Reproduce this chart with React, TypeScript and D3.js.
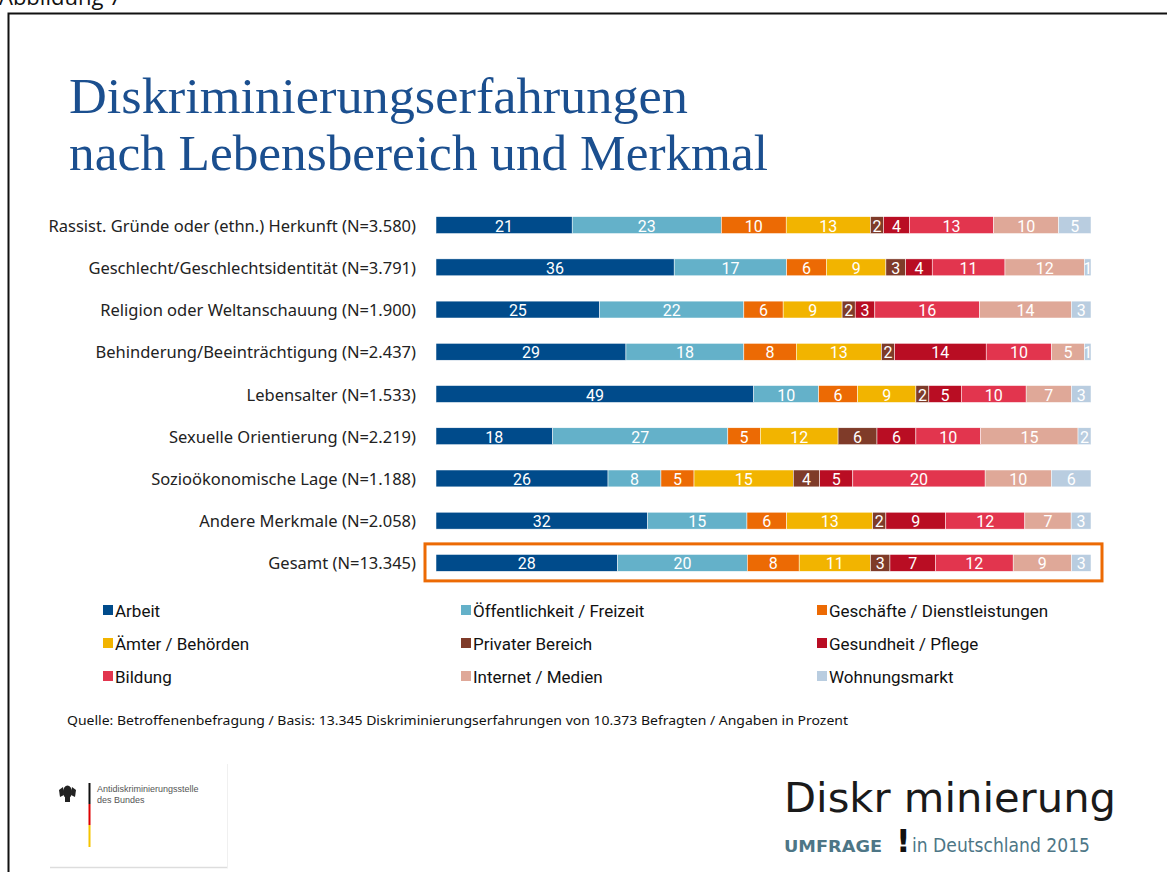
import React from "react";
import * as d3 from "d3";

const categories = [
  "Rassist. Gründe oder (ethn.) Herkunft (N=3.580)",
  "Geschlecht/Geschlechtsidentität (N=3.791)",
  "Religion oder Weltanschauung (N=1.900)",
  "Behinderung/Beeinträchtigung (N=2.437)",
  "Lebensalter (N=1.533)",
  "Sexuelle Orientierung (N=2.219)",
  "Sozioökonomische Lage (N=1.188)",
  "Andere Merkmale (N=2.058)",
  "Gesamt (N=13.345)",
];

const seriesNames = [
  "Arbeit",
  "Öffentlichkeit / Freizeit",
  "Geschäfte / Dienstleistungen",
  "Ämter / Behörden",
  "Privater Bereich",
  "Gesundheit / Pflege",
  "Bildung",
  "Internet / Medien",
  "Wohnungsmarkt",
];

const arbeit = [21, 36, 25, 29, 49, 18, 26, 32, 28];
const oeffentlichkeit = [23, 17, 22, 18, 10, 27, 8, 15, 20];
const geschaefte = [10, 6, 6, 8, 6, 5, 5, 6, 8];
const aemter = [13, 9, 9, 13, 9, 12, 15, 13, 11];
const privat = [2, 3, 2, 2, 2, 6, 4, 2, 3];
const gesundheit = [4, 4, 3, 14, 5, 6, 5, 9, 7];
const bildung = [13, 11, 16, 10, 10, 10, 20, 12, 12];
const internet = [10, 12, 14, 5, 7, 15, 10, 7, 9];
const wohnung = [5, 1, 3, 1, 3, 2, 6, 3, 3];

const seriesValues = [arbeit, oeffentlichkeit, geschaefte, aemter, privat, gesundheit, bildung, internet, wohnung];

const colors = [
  "#004b8b",
  "#64b1c9",
  "#ec6a04",
  "#f2b400",
  "#7f3b29",
  "#b90d23",
  "#e2354e",
  "#dfa898",
  "#b9cde0",
];

const rows = categories.map((c, i) => {
  const o: any = { cat: c };
  seriesNames.forEach((s, j) => (o[s] = seriesValues[j][i]));
  return o;
});

const W = 1167;
const H = 872;

export default function App() {
  const stack = d3.stack<any>().keys(seriesNames).offset(d3.stackOffsetExpand);
  const layers = stack(rows);
  const x = d3.scaleLinear().domain([0, 1]).range([436, 1091]);
  const y = d3
    .scaleBand<string>()
    .domain(categories)
    .range([204, 584])
    .paddingInner(0.6)
    .paddingOuter(0.3);
  const bw = y.bandwidth();
  const legendCols = [103, 461, 817];
  const legendRows = [610, 643, 676];
  const gesamt = categories[categories.length - 1];
  const gy = (y(gesamt) as number) + bw / 2;

  const labelFont = "'Liberation Sans Narrow', 'Arial Narrow', 'Roboto', sans-serif";

  return (
    <svg
      width={W}
      height={H}
      viewBox={`0 0 ${W} ${H}`}
      style={{ position: "absolute", left: 0, top: 0, background: "#fff" }}
    >
      <rect x={0} y={0} width={W} height={H} fill="#fff" />
      <text x={-1} y={5} fontFamily="'Open Sans', sans-serif" fontSize={22} fill="#111">
        Abbildung 7
      </text>
      <rect x={8.5} y={13.5} width={W + 20} height={H + 20} fill="none" stroke="#111" strokeWidth={2} />

      <g fontFamily="'Liberation Serif', serif" fill="#1b4f8f" fontSize={50}>
        <text x={69} y={113} textLength={619} lengthAdjust="spacingAndGlyphs">
          Diskriminierungserfahrungen
        </text>
        <text x={69} y={170} textLength={699} lengthAdjust="spacingAndGlyphs">
          nach Lebensbereich und Merkmal
        </text>
      </g>

      <g fontFamily="'Noto Sans', sans-serif" fontSize={16.5} fill="#222">
        {categories.map((c) => (
          <text key={c} x={416} y={(y(c) as number) + bw / 2} textAnchor="end" dominantBaseline="central">
            {c}
          </text>
        ))}
      </g>

      {layers.map((layer, li) => (
        <g key={layer.key}>
          {layer.map((d, i) => {
            const x0 = x(d[0]);
            const x1 = x(d[1]);
            const cy = (y(rows[i].cat) as number) + bw / 2;
            return (
              <g key={i}>
                <rect
                  x={x0}
                  y={y(rows[i].cat)}
                  width={x1 - x0}
                  height={bw}
                  fill={colors[li]}
                  stroke="#fff"
                  strokeWidth={0.5}
                />
                <text
                  x={(x0 + x1) / 2}
                  y={cy + 1}
                  textAnchor="middle"
                  dominantBaseline="central"
                  fill="#fff"
                  fontFamily={labelFont}
                  fontSize={16}
                >
                  {seriesValues[li][i]}
                </text>
              </g>
            );
          })}
        </g>
      ))}

      <rect
        x={425}
        y={gy - 19}
        width={677}
        height={37}
        fill="none"
        stroke="#ec6a04"
        strokeWidth={3}
      />

      <g fontFamily={labelFont} fontSize={17} fill="#111">
        {seriesNames.map((s, i) => {
          const cx = legendCols[i % 3];
          const cy = legendRows[Math.floor(i / 3)];
          return (
            <g key={s}>
              <rect x={cx} y={cy - 5} width={10} height={10} fill={colors[i]} />
              <text x={cx + 12} y={cy + 1} dominantBaseline="central">
                {s}
              </text>
            </g>
          );
        })}
      </g>

      <text
        x={67}
        y={725}
        fontFamily="'Noto Sans', sans-serif"
        fontSize={13}
        fill="#111"
        textLength={781}
        lengthAdjust="spacingAndGlyphs"
      >
        Quelle: Betroffenenbefragung / Basis: 13.345 Diskriminierungserfahrungen von 10.373 Befragten / Angaben in Prozent
      </text>

      {/* left logo */}
      <g>
        <rect x={50} y={764} width={178} height={104} fill="#fff" />
        <line x1={50} y1={867.5} x2={228} y2={867.5} stroke="#ddd" strokeWidth={1.5} />
        <line x1={227.5} y1={764} x2={227.5} y2={868} stroke="#f0f0f0" strokeWidth={1} />
        <g fill="#222">
          <ellipse cx={67.5} cy={792} rx={4.5} ry={6.5} />
          <path d="M63,787 L59,790 L60,797 L64,795 Z" />
          <path d="M72,787 L76,790 L75,797 L71,795 Z" />
          <rect x={65} y={797} width={5} height={5} />
        </g>
        <rect x={88.5} y={783} width={2} height={21} fill="#111" />
        <rect x={88.5} y={804} width={2} height={21} fill="#d00" />
        <rect x={88.5} y={825} width={2} height={22} fill="#f5c400" />
        <g fontFamily="'Liberation Sans Narrow', 'Liberation Sans', sans-serif" fontSize={9} fill="#555">
          <text x={97} y={792}>Antidiskriminierungsstelle</text>
          <text x={97} y={803}>des Bundes</text>
        </g>
      </g>

      {/* right logo */}
      <g fontFamily="'DejaVu Sans', sans-serif">
        <text
          x={784}
          y={812}
          fontSize={40}
          fontWeight={500}
          fill="#1a1a1a"
          textLength={332}
          lengthAdjust="spacingAndGlyphs"
        >
          Diskr minierung
        </text>
        <text x={784} y={852} fontSize={16} fontWeight="bold" fill="#4d7686" textLength={98} lengthAdjust="spacingAndGlyphs">
          UMFRAGE
        </text>
        <text x={896} y={852} fontSize={32} fontWeight="bold" fill="#111">
          !
        </text>
        <text x={912} y={852} fontSize={19} fill="#4d7686" textLength={178} lengthAdjust="spacingAndGlyphs">
          in Deutschland 2015
        </text>
      </g>
    </svg>
  );
}
